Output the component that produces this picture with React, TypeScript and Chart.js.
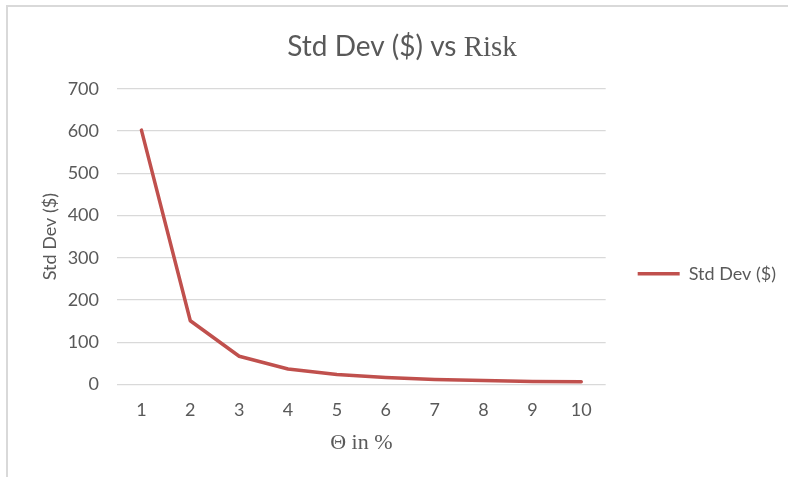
import React, { useEffect, useRef } from "react";
import { Chart, registerables } from "chart.js";

Chart.register(...registerables);

// Risk level (Θ, in percent) on the category axis
const thetaPercent = ["1", "2", "3", "4", "5", "6", "7", "8", "9", "10"];
// Standard deviation in dollars for each risk level
const stdDev = [602, 151, 67, 37, 24, 17, 12, 9.5, 7.5, 6.5];

const seriesLabel = "Std Dev ($)";
const titleSansPart = "Std Dev ($) vs ";
const titleSerifPart = "Risk";
const xAxisTitle = "Θ in %";
const yAxisTitle = "Std Dev ($)";
const yMin = 0;
const yMax = 700;
const yStep = 100;

const TEXT = "#595959";
const GRID = "#d9d9d9";
const LINE = "#c0504d";
const SANS = "Lato, 'Open Sans', sans-serif";
const SERIF = "'Liberation Serif', 'DejaVu Serif', serif";

// Title mixes a sans-serif run with a serif run, so it is painted by hand.
const mixedTitle = {
  id: "mixedTitle",
  afterDraw(chart: any) {
    const ctx = chart.ctx as CanvasRenderingContext2D;
    ctx.save();
    ctx.fillStyle = TEXT;
    ctx.textBaseline = "alphabetic";
    ctx.textAlign = "left";
    const sansFont = `28px ${SANS}`;
    const serifFont = `29px ${SERIF}`;
    ctx.font = sansFont;
    const w1 = ctx.measureText(titleSansPart).width;
    ctx.font = serifFont;
    const w2 = ctx.measureText(titleSerifPart).width;
    const cx = 402;
    const baseline = 56;
    const x0 = cx - (w1 + w2) / 2;
    ctx.font = sansFont;
    ctx.fillText(titleSansPart, x0, baseline);
    ctx.font = serifFont;
    ctx.fillText(titleSerifPart, x0 + w1, baseline);
    ctx.restore();
  },
};

export default function App() {
  const canvasRef = useRef<HTMLCanvasElement | null>(null);

  useEffect(() => {
    if (!canvasRef.current) return;
    const chart = new Chart(canvasRef.current, {
      type: "line",
      data: {
        labels: thetaPercent,
        datasets: [
          {
            label: seriesLabel,
            data: stdDev,
            borderColor: LINE,
            backgroundColor: LINE,
            borderWidth: 3.5,
            pointRadius: 0,
            pointHoverRadius: 0,
            tension: 0,
            borderCapStyle: "round",
            borderJoinStyle: "round",
          },
        ],
      },
      options: {
        animation: false,
        responsive: false,
        devicePixelRatio: 1,
        layout: { padding: { left: 35, right: 2, top: 88.7, bottom: 18 } },
        plugins: {
          title: { display: false },
          tooltip: { enabled: false },
          legend: {
            display: true,
            position: "right",
            align: "center",
            labels: {
              usePointStyle: true,
              pointStyle: "line",
              pointStyleWidth: 42,
              padding: 32,
              color: TEXT,
              font: { family: SANS, size: 18 },
            },
          },
        },
        scales: {
          x: {
            offset: true,
            grid: { display: false, drawTicks: false },
            border: { display: false },
            ticks: { color: TEXT, font: { family: SANS, size: 18 }, padding: 15 },
            title: {
              display: true,
              text: xAxisTitle,
              color: TEXT,
              font: { family: SERIF, size: 22 },
              padding: { top: 4, bottom: 3 },
            },
            afterFit: (scale: any) => {
              scale.height = 74.4;
            },
          },
          y: {
            min: yMin,
            max: yMax,
            ticks: { stepSize: yStep, color: TEXT, font: { family: SANS, size: 18 }, padding: 18 },
            grid: { color: GRID, lineWidth: 1.3, drawTicks: false },
            border: { display: false },
            title: {
              display: true,
              text: yAxisTitle,
              color: TEXT,
              font: { family: SANS, size: 18 },
              padding: { top: 4, bottom: 4 },
            },
            afterFit: (scale: any) => {
              scale.width = 82;
            },
          },
        },
      },
      plugins: [mixedTitle],
    });
    return () => chart.destroy();
  }, []);

  return (
    <div style={{ position: "fixed", left: 0, top: 0, width: 788, height: 477, background: "#fff", overflow: "hidden" }}>
      <canvas ref={canvasRef} width={788} height={477} style={{ position: "absolute", left: 0, top: 0 }} />
      <div
        style={{
          position: "absolute",
          left: 6,
          top: 5,
          right: 0,
          bottom: 0,
          borderTop: `2px solid ${GRID}`,
          borderLeft: `2px solid ${GRID}`,
          pointerEvents: "none",
        }}
      />
    </div>
  );
}
